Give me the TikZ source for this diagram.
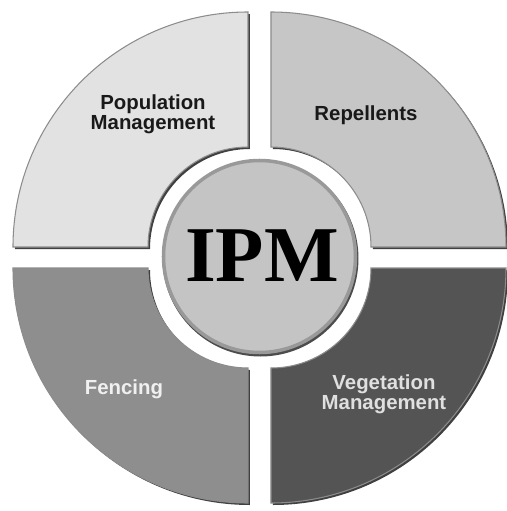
\documentclass[tikz,border=0pt]{standalone}
\usepackage{fontspec}
\setmainfont{Liberation Sans}
\newfontfamily\ipmfont{Liberation Serif}
\usetikzlibrary{positioning}

\definecolor{qtl}{HTML}{E2E2E2}
\definecolor{qtr}{HTML}{C6C6C6}
\definecolor{qbl}{HTML}{8E8E8E}
\definecolor{qbr}{HTML}{545454}
\definecolor{hub}{HTML}{C4C4C4}

\begin{document}
\begin{tikzpicture}[x=0.02cm, y=0.02cm,
    label/.style={font=\bfseries\fontsize{11.6}{11.6}\selectfont, align=center},
    shadow/.style={fill=black!75},
    quad/.style={line width=0.6pt, draw=black!45}]
  \useasboundingbox (-259.5,-253.5) rectangle (247.5,257.5);
  % four quarter rings, each moved off the centre by half the gap
  \foreach \a/\sx/\sy/\col in {90/-1/1/qtl, 0/1/1/qtr, 180/-1/-1/qbl, 270/1/-1/qbr}{
    \begin{scope}[shift={(\sx*11.5,\sy*10.5)}]
      \fill[shadow, shift={(2,-2)}] (\a:100) -- (\a:235)
        arc[start angle=\a, end angle=\a+90, radius=235] -- (\a+90:100)
        arc[start angle=\a+90, end angle=\a, radius=100] -- cycle;
      \filldraw[quad, fill=\col] (\a:100) -- (\a:235)
        arc[start angle=\a, end angle=\a+90, radius=235] -- (\a+90:100)
        arc[start angle=\a+90, end angle=\a, radius=100] -- cycle;
    \end{scope}
  }
  % hub
  \fill[black!70] (1,-1) circle[radius=98];
  \filldraw[fill=hub, draw=black!40, line width=2pt] (0,1) circle[radius=96];
  \node (ipm) at (2.5,1.5) {\ipmfont\bfseries\fontsize{45}{45}\selectfont IPM};
  % labels
  \node[label, text=black!90] (pop) at (-106.5,143.5) {Population\\Management};
  \node[label, text=black!90] (rep) at (106.5,142.5) {Repellents};
  \node[label, text=white!94!black] (fen) at (-135.5,-131.5) {Fencing};
  \node[label, text=white!88!black] (veg) at (124.5,-136.5) {Vegetation\\Management};
\end{tikzpicture}
\end{document}
